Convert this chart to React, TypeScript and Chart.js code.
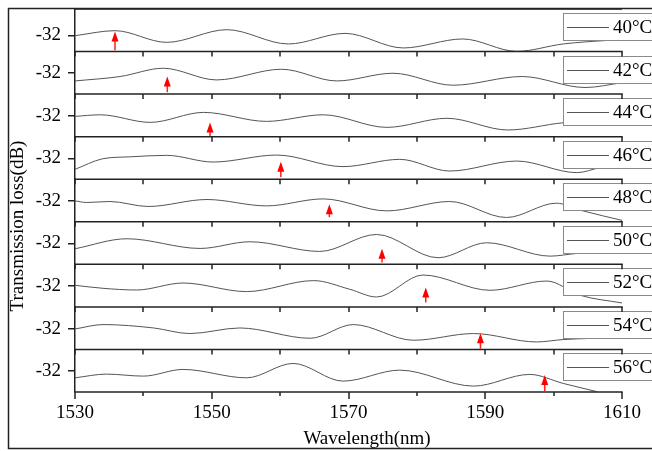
import React, { useEffect, useRef } from 'react';
import { Chart, registerables } from 'chart.js';

Chart.register(...registerables);

const FONT = '"Liberation Serif", "Times New Roman", serif';

// ---------------- data ----------------
const temps = ['40°C', '42°C', '44°C', '46°C', '48°C', '50°C', '52°C', '54°C', '56°C'];
const xTicks = [1530, 1550, 1570, 1590, 1610];
const xMinorTicks = [1530, 1540, 1550, 1560, 1570, 1580, 1590, 1600, 1610];
const yTicks = [-32];

const wl40 = [1530, 1535.85, 1543.4, 1552.2, 1561.2, 1569.5, 1578.0, 1586.7, 1594.6, 1601.4, 1608.0, 1610];
const db40 = [-32.03, -31.53, -32.70, -31.43, -32.86, -31.80, -33.26, -32.36, -33.60, -32.86, -32.50, -32.43];

const wl42 = [1530, 1536.6, 1542.9, 1550.7, 1560.2, 1568.3, 1576.5, 1585.3, 1595.4, 1604.6, 1610];
const db42 = [-32.77, -32.33, -31.50, -32.67, -31.60, -32.77, -32.00, -33.20, -32.33, -33.43, -32.95];

const wl44 = [1530, 1533.7, 1541.0, 1548.8, 1558.0, 1566.3, 1575.6, 1584.4, 1593.3, 1601.4, 1610];
const db44 = [-32.06, -31.90, -32.66, -31.66, -32.56, -31.90, -33.16, -32.25, -33.42, -32.70, -32.40];

const wl46 = [1530, 1534.0, 1538.0, 1543.4, 1550.2, 1559.5, 1569.2, 1577.5, 1584.8, 1594.6, 1603.4, 1606.8, 1610];
const db46 = [-33.10, -32.05, -31.85, -31.70, -32.37, -31.67, -32.83, -32.10, -33.27, -32.27, -33.43, -32.93, -32.60];

const wl48 = [1530, 1531.7, 1535.1, 1540.7, 1549.3, 1558.0, 1566.3, 1575.6, 1584.8, 1593.1, 1600.4, 1604.3, 1610];
const db48 = [-32.00, -32.16, -32.06, -32.56, -31.86, -32.50, -31.80, -33.00, -32.06, -33.66, -32.23, -33.00, -33.95];

const wl50 = [1530, 1537.6, 1548.3, 1555.6, 1565.8, 1574.1, 1583.1, 1590.2, 1599.5, 1603.4, 1610];
const db50 = [-32.53, -31.53, -32.50, -31.83, -32.80, -31.10, -33.43, -31.93, -33.27, -33.00, -32.80];

const wl52 = [1530, 1534.1, 1539.0, 1545.8, 1555.1, 1564.9, 1570.2, 1574.1, 1580.9, 1590.7, 1599.0, 1603.9, 1610];
const db52 = [-31.93, -32.23, -32.40, -31.70, -32.56, -31.46, -32.33, -33.10, -30.90, -32.43, -31.50, -32.93, -33.70];

const wl54 = [1530, 1534.1, 1541.5, 1546.8, 1554.1, 1564.4, 1570.7, 1579.5, 1588.3, 1597.5, 1601.4, 1610];
const db54 = [-32.04, -31.60, -31.94, -32.50, -31.94, -32.97, -31.60, -33.17, -32.50, -33.34, -33.10, -32.90];

const wl56 = [1530, 1534.6, 1540.0, 1545.8, 1555.1, 1561.9, 1569.2, 1577.5, 1588.3, 1596.5, 1601.4, 1606.3];
const db56 = [-32.67, -32.30, -32.50, -31.83, -32.67, -31.23, -33.00, -31.90, -33.50, -32.33, -33.23, -34.05];

const wavelengths = [wl40, wl42, wl44, wl46, wl48, wl50, wl52, wl54, wl56];
const losses = [db40, db42, db44, db46, db48, db50, db52, db54, db56];

// per-panel y ranges (dB)
const yMin = [-33.62, -34.09, -34.09, -34.09, -34.09, -34.09, -34.09, -34.09, -34.09];
const yMax = [-29.36, -29.83, -29.83, -29.83, -29.83, -29.83, -29.83, -29.83, -29.83];

// red arrows: wavelength, tip value, base value
const arrowWl = [1535.85, 1543.5, 1549.75, 1560.1, 1567.2, 1574.9, 1581.3, 1589.3, 1598.7];
const arrowTip = [-31.60, -32.33, -32.66, -32.33, -32.33, -32.53, -32.16, -32.47, -32.40];
const arrowBase = [-33.48, -33.90, -34.03, -33.90, -33.63, -33.90, -33.66, -34.02, -34.00];

const decor = {
  id: 'decor',
  afterDatasetsDraw(chart: any) {
    const ctx = chart.ctx;
    const ca = chart.chartArea;
    const xs = chart.scales.x;
    ctx.save();
    // legend boxes
    temps.forEach((t, i) => {
      const ys = chart.scales['y' + i];
      const by = Math.round(ys.top + 4) + 0.5;
      const bh = 27;
      const bx = 563.5;
      ctx.fillStyle = '#fff';
      ctx.fillRect(bx, by, 120, bh);
      ctx.strokeStyle = '#8a8a8a';
      ctx.lineWidth = 1;
      ctx.strokeRect(bx, by, 120, bh);
      ctx.strokeStyle = '#555';
      ctx.beginPath();
      ctx.moveTo(567, Math.round(by + bh / 2) + 0.5);
      ctx.lineTo(609, Math.round(by + bh / 2) + 0.5);
      ctx.stroke();
      ctx.fillStyle = '#000';
      ctx.font = `19px ${FONT}`;
      ctx.textBaseline = 'middle';
      ctx.textAlign = 'left';
      ctx.fillText(t, 613, by + bh / 2 + 1);
    });
    // panel separators with ticks
    ctx.strokeStyle = '#222';
    ctx.lineWidth = 1.5;
    ctx.beginPath();
    ctx.moveTo(ca.left, ca.top);
    ctx.lineTo(ca.right, ca.top);
    ctx.stroke();
    temps.forEach((t, i) => {
      const ys = chart.scales['y' + i];
      const yb = ys.bottom;
      const last = i === temps.length - 1;
      ctx.lineWidth = 1.5;
      ctx.beginPath();
      ctx.moveTo(ca.left, yb);
      ctx.lineTo(ca.right + 0.75, yb);
      ctx.stroke();
      xMinorTicks.forEach((v) => {
        const px = Math.round(xs.getPixelForValue(v));
        const major = xTicks.includes(v);
        const len = last ? (major ? 7 : 4) : 5;
        ctx.beginPath();
        ctx.moveTo(px, yb);
        ctx.lineTo(px, yb + len);
        ctx.stroke();
      });
    });
    // arrows
    temps.forEach((t, i) => {
      const ys = chart.scales['y' + i];
      const px = xs.getPixelForValue(arrowWl[i]);
      const tip = ys.getPixelForValue(arrowTip[i]);
      const base = ys.getPixelForValue(arrowBase[i]);
      ctx.strokeStyle = '#ff2020';
      ctx.lineWidth = 1.5;
      ctx.beginPath();
      ctx.moveTo(px, tip + 8);
      ctx.lineTo(px, base);
      ctx.stroke();
      ctx.fillStyle = '#ff0000';
      ctx.beginPath();
      ctx.moveTo(px, tip);
      ctx.lineTo(px - 3.5, tip + 10);
      ctx.lineTo(px + 3.5, tip + 10);
      ctx.closePath();
      ctx.fill();
    });
    // outer frame
    ctx.strokeStyle = '#222';
    ctx.lineWidth = 1.5;
    ctx.beginPath();
    ctx.moveTo(660, 8.5);
    ctx.lineTo(8.5, 8.5);
    ctx.lineTo(8.5, 448.5);
    ctx.lineTo(660, 448.5);
    ctx.stroke();
    // axis titles
    ctx.fillStyle = '#000';
    ctx.font = `19px ${FONT}`;
    ctx.textAlign = 'center';
    ctx.textBaseline = 'middle';
    ctx.fillText('Wavelength(nm)', 367, 439);
    ctx.translate(18, 226);
    ctx.rotate(-Math.PI / 2);
    ctx.fillText('Transmission loss(dB)', 0, 0);
    ctx.restore();
  },
};

export default function App() {
  const ref = useRef<HTMLCanvasElement>(null);
  useEffect(() => {
    const canvas = ref.current;
    if (!canvas) return;
    const scales: any = {
      x: {
        type: 'linear',
        position: 'bottom',
        min: 1530,
        max: 1610,
        afterBuildTicks: (s: any) => {
          s.ticks = xTicks.map((v) => ({ value: v }));
        },
        ticks: {
          font: { family: FONT, size: 19 },
          color: '#000',
          padding: 10,
          autoSkip: false,
          maxRotation: 0,
          callback: (v: any) => String(v),
        },
        grid: { display: false, drawTicks: false },
        border: { display: false },
        afterFit: (s: any) => {
          s.height = 59;
          s.paddingLeft = 0;
          s.paddingRight = 0;
        },
      },
    };
    // insert bottom panel first so that the first panel ends on top of the stack
    for (let i = temps.length - 1; i >= 0; i--) {
      scales['y' + i] = {
        type: 'linear',
        position: 'left',
        stack: 'panels',
        stackWeight: 1,
        offset: false,
        min: yMin[i],
        max: yMax[i],
        afterBuildTicks: (s: any) => {
          s.ticks = yTicks.map((v) => ({ value: v }));
        },
        ticks: {
          font: { family: FONT, size: 19 },
          color: '#000',
          padding: 7,
          callback: (v: any) => String(v),
        },
        grid: { drawOnChartArea: false, drawTicks: true, tickLength: 7, color: '#222', lineWidth: 1.5 },
        border: { display: true, color: '#222', width: 1.5 },
        afterFit: (s: any) => {
          s.width = 75;
          s.paddingTop = 0;
          s.paddingBottom = 0;
        },
      };
    }
    const datasets = temps.map((t, i) => ({
      label: t,
      data: wavelengths[i].map((w, j) => ({ x: w, y: losses[i][j] })),
      xAxisID: 'x',
      yAxisID: 'y' + i,
      borderColor: '#555',
      borderWidth: 1,
      pointRadius: 0,
      fill: false,
      cubicInterpolationMode: 'monotone' as const,
    }));
    const chart = new Chart(canvas, {
      type: 'line',
      data: { datasets },
      options: {
        responsive: false,
        animation: false,
        devicePixelRatio: 1,
        layout: { padding: { top: 9, right: 30, left: 0, bottom: 0 } },
        plugins: { legend: { display: false }, tooltip: { enabled: false }, title: { display: false } },
        scales,
      } as any,
      plugins: [decor],
    });
    return () => chart.destroy();
  }, []);
  return (
    <div style={{ position: 'fixed', left: 0, top: 0, width: 652, height: 451, background: '#fff' }}>
      <canvas ref={ref} width={652} height={451} style={{ display: 'block' }} />
    </div>
  );
}
